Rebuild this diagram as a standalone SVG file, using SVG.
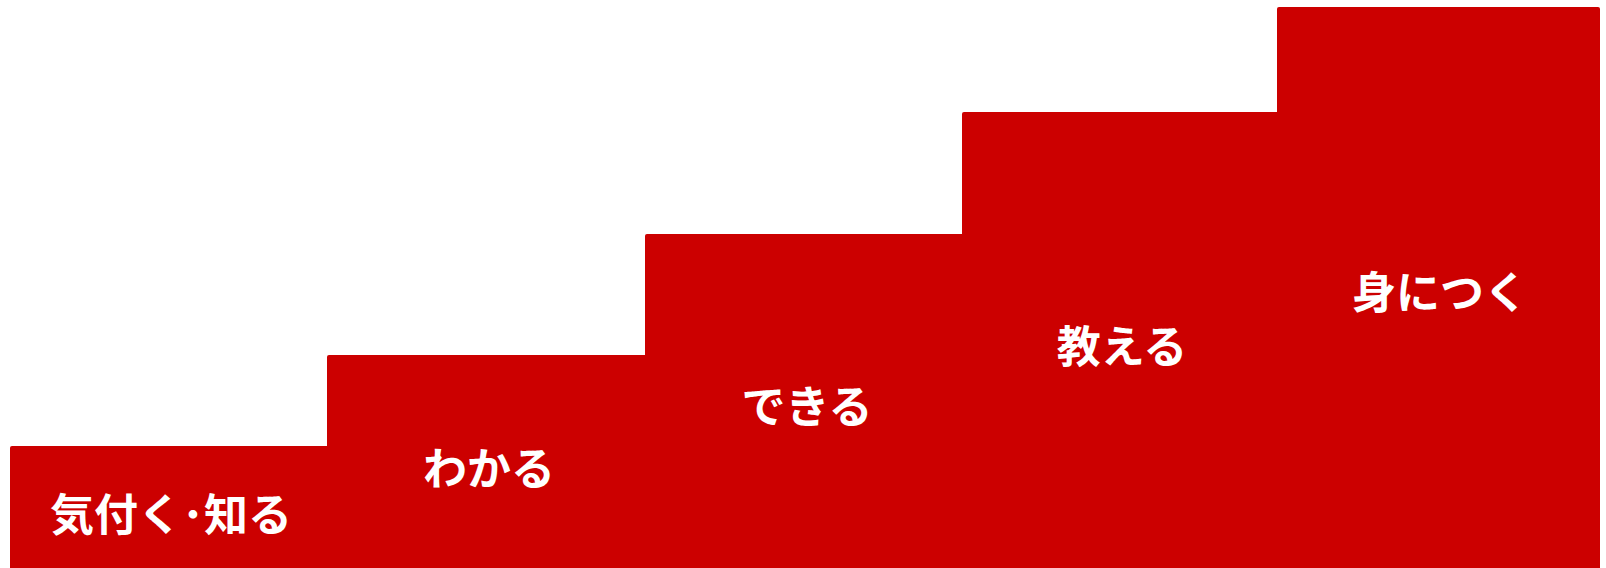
<svg xmlns="http://www.w3.org/2000/svg" width="1606" height="568" viewBox="0 0 1606 568">
<style>
.step{fill:#CC0000;}
.lbl{fill:#FFFFFF;font-family:"Noto Sans CJK JP","Noto Sans",sans-serif;font-weight:bold;font-size:44px;text-anchor:middle;dominant-baseline:central;}
</style>
<rect width="1606" height="568" fill="#FFFFFF"/>
<g id="step1"><rect class="step" x="10" y="446" width="330" height="130" rx="2"/><text class="lbl" x="171" y="512">気付く･知る</text></g>
<g id="step2"><rect class="step" x="327" y="355" width="330" height="220" rx="2"/><text class="lbl" x="489" y="466">わかる</text></g>
<g id="step3"><rect class="step" x="645" y="234" width="330" height="340" rx="2"/><text class="lbl" x="807" y="404">できる</text></g>
<g id="step4"><rect class="step" x="962" y="112" width="330" height="460" rx="2"/><text class="lbl" x="1122" y="344">教える</text></g>
<g id="step5"><rect class="step" x="1277" y="7" width="323" height="570" rx="2"/><text class="lbl" x="1440" y="290">身につく</text></g>
</svg>
